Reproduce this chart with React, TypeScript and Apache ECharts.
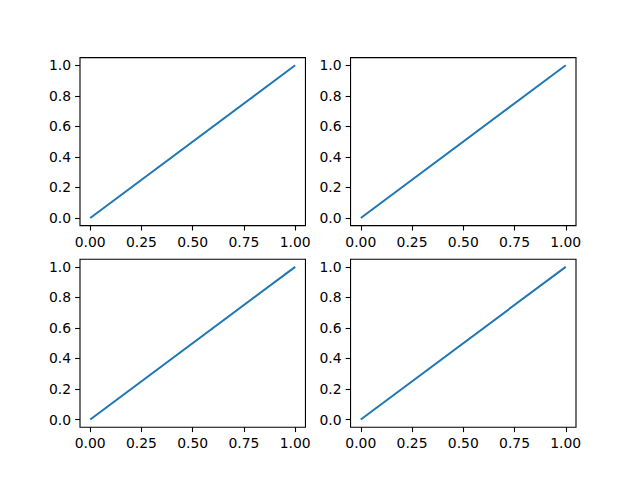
import React, { useEffect, useRef } from "react";
import * as echarts from "echarts";

const xValues = [0, 1];
const yValues = [0, 1];
const xTicks = [0, 0.25, 0.5, 0.75, 1.0];
const yTicks = [0, 0.2, 0.4, 0.6, 0.8, 1.0];
const panels = [0, 1, 2, 3];

export default function App() {
  const ref = useRef<HTMLDivElement>(null);
  useEffect(() => {
    if (!ref.current) return;
    const chart = echarts.init(ref.current, null, { renderer: "svg" });
    const figW = 640, figH = 480;
    const left = 0.125 * figW, right = 0.9 * figW;
    const top = (1 - 0.88) * figH, bottom = 0.89 * figH;
    const totalW = right - left, totalH = bottom - top;
    const w = totalW / 2.2, h = totalH / 2.2;
    const font = "DejaVu Sans";
    const grids = panels.map((i) => {
      const c = i % 2, r = Math.floor(i / 2);
      return {
        left: left + c * (w + 0.2 * w),
        top: top + r * (h + 0.2 * h),
        width: w,
        height: h,
        show: true,
        borderColor: "#000",
        borderWidth: 1.1,
        backgroundColor: "#fff",
      };
    });
    const data = xValues.map((x, k) => [x, yValues[k]]);
    const tickStyle = { show: true, inside: false, length: 4.9, lineStyle: { color: "#000", width: 1.1 } };
    const axisLine = { show: false, onZero: false };
    chart.setOption({
      animation: false,
      backgroundColor: "#fff",
      grid: grids,
      xAxis: panels.map((i) => ({
        type: "value",
        gridIndex: i,
        min: -0.05,
        max: 1.05,
        axisLine,
        splitLine: { show: false },
        axisTick: { ...tickStyle, customValues: xTicks },
        axisLabel: {
          customValues: xTicks,
          formatter: (v: number) => v.toFixed(2),
          color: "#000",
          fontFamily: font,
          fontSize: 13.9,
          margin: 9,
        },
      })),
      yAxis: panels.map((i) => ({
        type: "value",
        gridIndex: i,
        min: -0.05,
        max: 1.05,
        axisLine,
        splitLine: { show: false },
        axisTick: { ...tickStyle, customValues: yTicks },
        axisLabel: {
          customValues: yTicks,
          formatter: (v: number) => v.toFixed(1),
          color: "#000",
          fontFamily: font,
          fontSize: 13.9,
          margin: 9,
        },
      })),
      series: panels.map((i) => ({
        type: "line",
        xAxisIndex: i,
        yAxisIndex: i,
        data,
        symbol: "none",
        lineStyle: { color: "#1f77b4", width: 2 },
      })),
    });
    return () => chart.dispose();
  }, []);
  return (
    <div
      ref={ref}
      style={{ position: "fixed", left: 0, top: 0, width: 640, height: 480 }}
    />
  );
}
